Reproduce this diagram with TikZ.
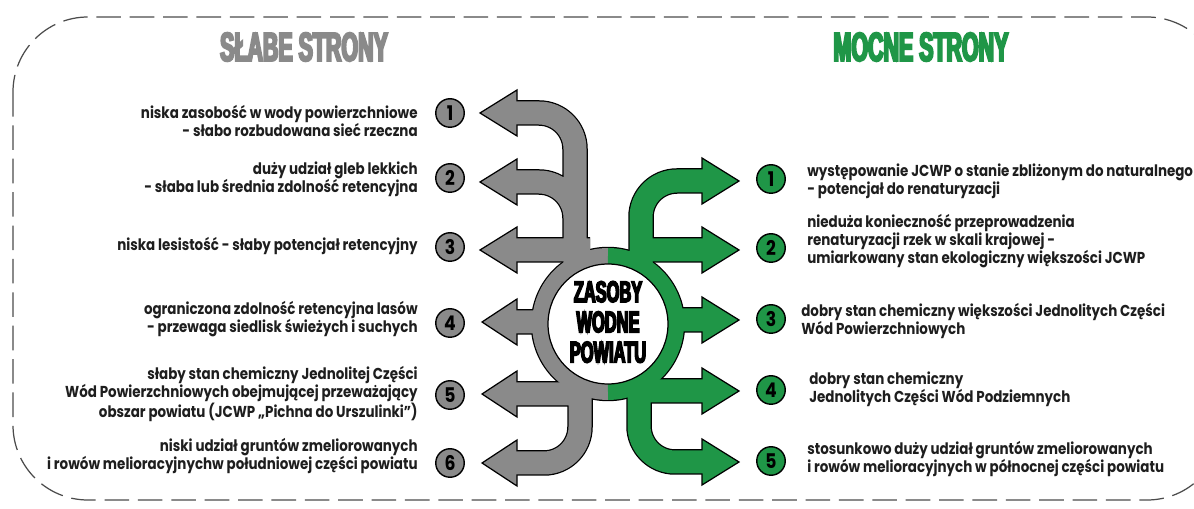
\documentclass[tikz,border=0pt]{standalone}
\usepackage{fontspec}
\setmainfont{Poppins}[FakeStretch=0.85]
\newfontfamily\titlefont{Liberation Sans}[FakeStretch=0.53,FakeBold=5]
\newfontfamily\hubfont{Liberation Sans}[FakeStretch=0.55,FakeBold=5]

\definecolor{weak}{RGB}{138,138,138}
\definecolor{strong}{RGB}{31,150,71}
\definecolor{ink}{RGB}{30,30,30}

% centre lines of the arrow shafts (pixel grid, y down)
\def\weakshafts{(515,113) -- (575,113) -- (575,265)
  (515,182) -- (575,182) -- (575,230)
  (515,250) -- (590,250)
  (515,322) -- (545,322)
  (515,394) -- (590,394)
  (580,380) -- (580,463) -- (515,463)}
\def\strongshafts{(704,181) -- (641,181) -- (641,265)
  (704,250) -- (630,250)
  (704,320) -- (670,320)
  (704,391) -- (630,391)
  (639,380) -- (639,462) -- (704,462)}

\begin{document}
\begin{tikzpicture}[x=0.02cm, y=-0.02cm,
  outline/.style={draw=black, line width=0.51cm, rounded corners=0.72cm},
  shaft/.style={line width=0.46cm, rounded corners=0.72cm},
  head/.style={draw=black, line width=0.7pt, line join=miter},
  num/.style={circle, draw=black, line width=0.8pt, minimum size=0.57cm, inner sep=0pt,
    font=\bfseries\fontsize{11.5}{12}\selectfont},
  txt/.style={inner sep=0pt, text=ink, font=\bfseries\fontsize{9}{10.3}\selectfont},
  title/.style={font=\titlefont\bfseries\fontsize{23}{26}\selectfont}]
	\useasboundingbox (0,0) rectangle (1194,509);
	% frame
	\begin{scope}
		\clip (0,0) rectangle (1194,509);
		\draw [ink!80, line width=0.7pt, dash pattern=on 14pt off 5pt, rounded corners=1.5cm] (13,17) rectangle (1222,500);
	\end{scope}
	% titles
	\node[title, text=weak] (weaktitle) at (304,47) {SŁABE STRONY};
	\node[title, text=strong] (strongtitle) at (921,47) {MOCNE STRONY};
	% black edges of shafts and ring
	\draw [outline] \weakshafts;
	\draw [outline] \strongshafts;
	\draw [black, line width=0.37cm] (608,324) circle [radius=1.36cm];
	% arrow heads
	\draw [head, fill=weak] (517,90) -- (480,113) -- (517,136) -- cycle;
	\draw [head, fill=weak] (517,159) -- (480,182) -- (517,205) -- cycle;
	\draw [head, fill=weak] (517,227) -- (480,250) -- (517,273) -- cycle;
	\draw [head, fill=weak] (517,299) -- (482,322) -- (517,345) -- cycle;
	\draw [head, fill=weak] (517,371) -- (482,394) -- (517,417) -- cycle;
	\draw [head, fill=weak] (517,440) -- (482,463) -- (517,486) -- cycle;
	\draw [head, fill=strong] (702,158) -- (739,181) -- (702,204) -- cycle;
	\draw [head, fill=strong] (702,227) -- (739,250) -- (702,273) -- cycle;
	\draw [head, fill=strong] (702,297) -- (739,320) -- (702,343) -- cycle;
	\draw [head, fill=strong] (702,368) -- (739,391) -- (702,414) -- cycle;
	\draw [head, fill=strong] (702,439) -- (739,462) -- (702,485) -- cycle;
	% coloured shafts and ring
	\draw [shaft, weak] \weakshafts;
	\draw [shaft, strong] \strongshafts;
	\draw [weak, line width=0.32cm] (608,256) arc [start angle=90, end angle=270, radius=1.36cm];
	\draw [strong, line width=0.32cm] (608,256) arc [start angle=90, end angle=-90, radius=1.36cm];
	% hub
	\draw [fill=white, line width=0.7pt] (608,324) circle [radius=1.2cm];
	\node[align=center, font=\hubfont\bfseries\fontsize{17}{17.2}\selectfont] (hub) at (608,322) {ZASOBY\\WODNE\\POWIATU};
	% numbers
	\node[num, fill=weak] (w1) at (450,113) {1};
	\node[num, fill=weak] (w2) at (450,178) {2};
	\node[num, fill=weak] (w3) at (450,247) {3};
	\node[num, fill=weak] (w4) at (450,323) {4};
	\node[num, fill=weak] (w5) at (450,395) {5};
	\node[num, fill=weak] (w6) at (450,463) {6};
	\node[num, fill=strong] (s1) at (771,179) {1};
	\node[num, fill=strong] (s2) at (771,248) {2};
	\node[num, fill=strong] (s3) at (771,319) {3};
	\node[num, fill=strong] (s4) at (771,390) {4};
	\node[num, fill=strong] (s5) at (771,461) {5};
	% labels
	\node[txt, anchor=east, align=right] (wt1) at (418,121) {niska zasobość w wody powierzchniowe\\- słabo rozbudowana sieć rzeczna};
	\node[txt, anchor=east, align=right] (wt2) at (418,179) {duży udział gleb lekkich\\- słaba lub średnia zdolność retencyjna};
	\node[txt, anchor=east, align=right] (wt3) at (418,246) {niska lesistość - słaby potencjał retencyjny};
	\node[txt, anchor=east, align=right] (wt4) at (418,319) {ograniczona zdolność retencyjna lasów\\- przewaga siedlisk świeżych i suchych};
	\node[txt, anchor=east, align=right] (wt5) at (418,394) {słaby stan chemiczny Jednolitej Części\\Wód Powierzchniowych obejmującej przeważający\\obszar powiatu (JCWP „Pichna do Urszulinki")};
	\node[txt, anchor=east, align=right] (wt6) at (418,456) {niski udział gruntów zmeliorowanych\\i rowów melioracyjnychw południowej części powiatu};
	\node[txt, anchor=west, align=left] (st1) at (807,181) {występowanie JCWP o stanie zbliżonym do naturalnego\\- potencjał do renaturyzacji};
	\node[txt, anchor=west, align=left] (st2) at (807,241) {nieduża konieczność przeprowadzenia\\renaturyzacji rzek w skali krajowej -\\umiarkowany stan ekologiczny większości JCWP};
	\node[txt, anchor=west, align=left] (st3) at (801,321) {dobry stan chemiczny większości Jednolitych Części\\Wód Powierzchniowych};
	\node[txt, anchor=west, align=left] (st4) at (809,389) {dobry stan chemiczny\\Jednolitych Części Wód Podziemnych};
	\node[txt, anchor=west, align=left] (st5) at (807,459) {stosunkowo duży udział gruntów zmeliorowanych\\i rowów melioracyjnych w północnej części powiatu};
\end{tikzpicture}
\end{document}
